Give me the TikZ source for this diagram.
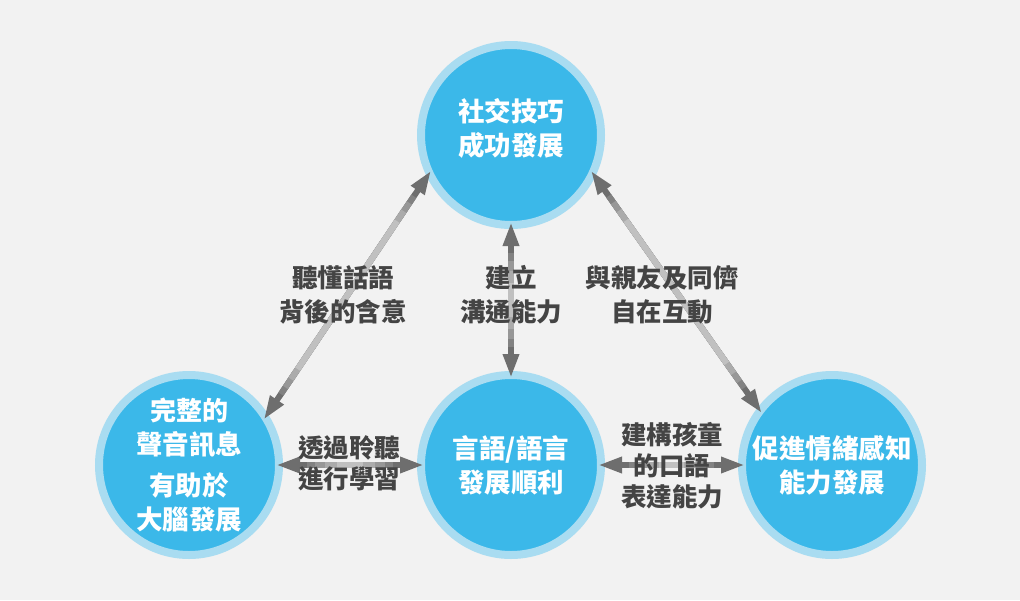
\documentclass[tikz,border=0pt]{standalone}
\usepackage{fontspec}
\setmainfont{Noto Sans CJK TC}
\usetikzlibrary{arrows.meta}
\definecolor{bgcol}{HTML}{F2F2F2}
\definecolor{core}{HTML}{3BB8E9}
\definecolor{ring}{HTML}{A9DCF1}
\definecolor{darkarr}{HTML}{6E6E6E}
\definecolor{lightarr}{HTML}{D4D4D4}
\definecolor{labcol}{HTML}{444444}

\begin{document}
\begin{tikzpicture}[x=1pt, y=-1pt,
  topic/.style={circle, fill=core, draw=ring, line width=8pt, minimum size=180pt, inner sep=0pt, outer sep=0pt, text=white, align=center, font=\bfseries\fontsize{26.5}{34}\selectfont},
  link/.style={{Triangle[length=24pt, width=15pt]}-{Triangle[length=24pt, width=15pt]}, line width=6pt, darkarr, shorten <=-3pt, shorten >=-3pt},
  shaft/.style={line width=6pt},
  lab/.style={text=labcol, align=center, font=\bfseries\fontsize{25.5}{34}\selectfont}]
\fill[bgcol] (0,0) rectangle (1020,600);
\useasboundingbox (0,0) rectangle (1020,600);

\node[topic, text depth=17pt] (top) at (511,135) {社交技巧\\成功發展};
\node[topic] (left) at (189,465) {\fontsize{26}{31}\selectfont 完整的\\聲音訊息\\[7pt]有助於\\大腦發展};
\node[topic] (mid) at (511,465) {言語/語言\\發展順利};
\node[topic] (right) at (832,465) {促進情緒感知\\能力發展};

\foreach \a/\b in {left.32/top.205, top.335/right.143, top.270/mid.90, left.0/mid.180, mid.0/right.180}{
  \draw[link] (\a) -- (\b);
  \foreach \s/\p in {28/20, 36/40, 46/60, 58/80}
    \draw[shaft, lightarr!\p!darkarr, shorten <=\s pt, shorten >=\s pt] (\a) -- (\b);
}

\node[lab] (listen) at (343,295) {聽懂話語\\背後的含意};
\node[lab] (talk) at (511,295) {建立\\溝通能力};
\node[lab] (peers) at (662,295) {與親友及同儕\\自在互動};
\node[lab, font=\bfseries\fontsize{25.5}{31}\selectfont] (learn) at (349,463) {透過聆聽\\進行學習};
\node[lab, font=\bfseries\fontsize{25.5}{31}\selectfont] (express) at (672,466) {建構孩童\\的口語\\表達能力};
\end{tikzpicture}
\end{document}
